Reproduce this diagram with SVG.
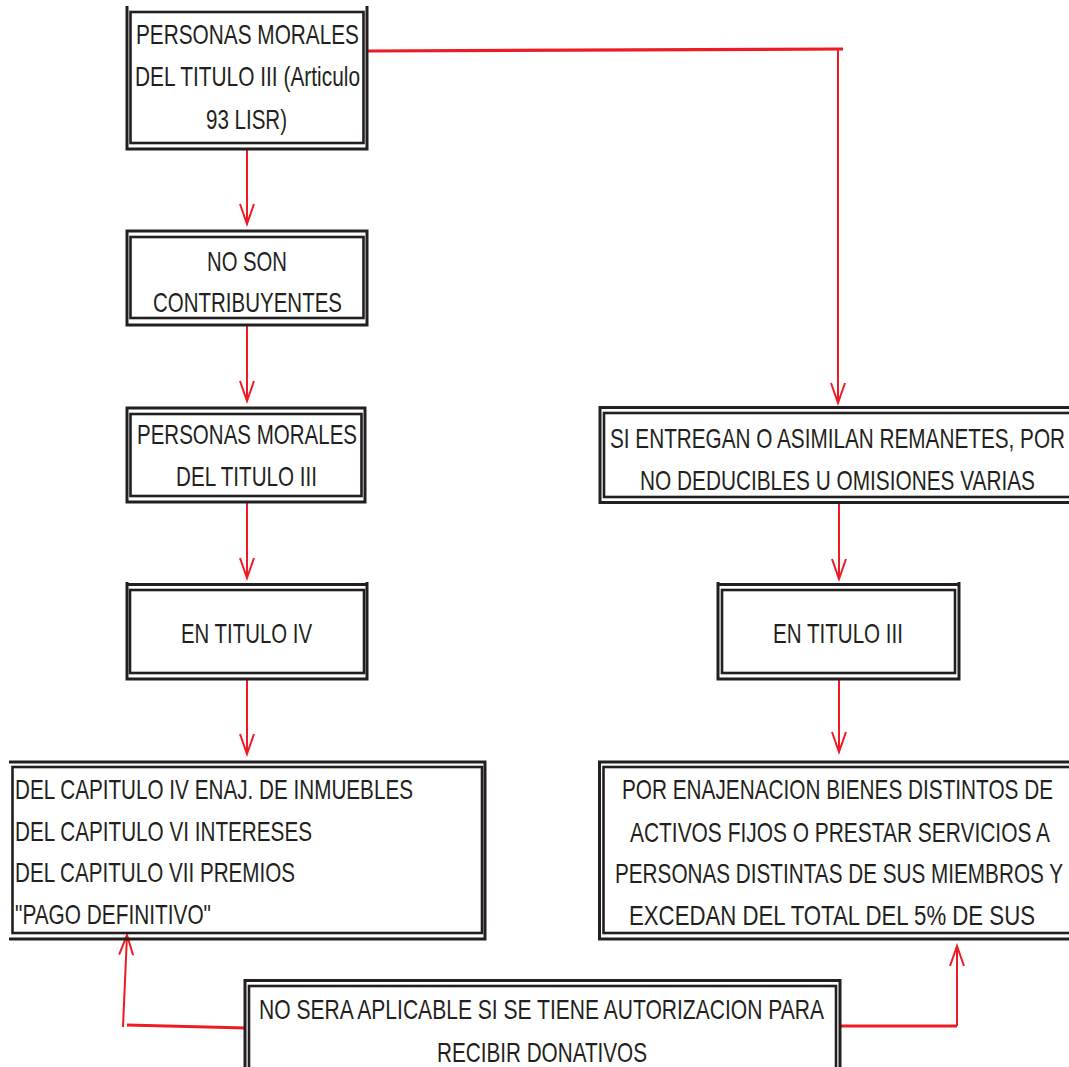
<svg xmlns="http://www.w3.org/2000/svg" width="1069" height="1067" viewBox="0 0 1069 1067">
<defs>
<style>
.o{fill:none;stroke:#231f20;stroke-width:3}
.i{fill:none;stroke:#231f20;stroke-width:2.6}
.t{font-family:"Liberation Sans",Arial,sans-serif;font-size:28px;fill:#231f20}
.c{fill:none;stroke:#ed1c24;stroke-width:2}
.cw{fill:none;stroke:#ed1c24;stroke-width:3.2}
</style>
<marker id="ah" markerUnits="userSpaceOnUse" markerWidth="24" markerHeight="20" viewBox="0 -10 24 20" refX="21" refY="0" orient="auto">
<path d="M1,-7 L21,0 L1,7" fill="none" stroke="#ed1c24" stroke-width="2"/>
</marker>
</defs>
<rect width="1069" height="1067" fill="#fff"/>

<g id="connectors">
<line class="c" x1="247" y1="149" x2="247" y2="224" marker-end="url(#ah)"/>
<line class="c" x1="247" y1="326" x2="247" y2="401" marker-end="url(#ah)"/>
<line class="c" x1="247" y1="503" x2="247" y2="578" marker-end="url(#ah)"/>
<line class="c" x1="247" y1="680" x2="247" y2="754" marker-end="url(#ah)"/>
<path class="cw" d="M368,51 L843,49"/>
<line class="c" x1="838" y1="49" x2="838" y2="403" marker-end="url(#ah)"/>
<line class="c" x1="839" y1="504" x2="839" y2="579" marker-end="url(#ah)"/>
<line class="c" x1="839" y1="680" x2="839" y2="752" marker-end="url(#ah)"/>
<path class="cw" d="M246,1028 L127,1025"/>
<line class="c" x1="123" y1="1027" x2="127" y2="935" marker-end="url(#ah)"/>
<path class="cw" d="M839,1026 L957,1026"/>
<line class="c" x1="957" y1="1026" x2="957" y2="946" marker-end="url(#ah)"/>
</g>

<g id="n1">
<path class="o" d="M127,6 V149 H367 V6"/>
<rect class="i" x="130.5" y="12" width="233" height="131"/>
<text class="t" x="136" y="44" textLength="223" lengthAdjust="spacingAndGlyphs">PERSONAS MORALES</text>
<text class="t" x="135" y="86" textLength="225" lengthAdjust="spacingAndGlyphs">DEL TITULO III (Articulo</text>
<text class="t" x="206" y="129" textLength="81" lengthAdjust="spacingAndGlyphs">93 LISR)</text>
</g>

<g id="n2">
<rect class="o" x="127" y="231" width="240" height="94"/>
<rect class="i" x="130.5" y="237" width="233" height="81"/>
<text class="t" x="207" y="271" textLength="80" lengthAdjust="spacingAndGlyphs">NO SON</text>
<text class="t" x="153" y="312" textLength="189" lengthAdjust="spacingAndGlyphs">CONTRIBUYENTES</text>
</g>

<g id="n3">
<rect class="o" x="127" y="408" width="238" height="94"/>
<rect class="i" x="130.5" y="414" width="231" height="82"/>
<text class="t" x="137" y="444" textLength="220" lengthAdjust="spacingAndGlyphs">PERSONAS MORALES</text>
<text class="t" x="176" y="486" textLength="141" lengthAdjust="spacingAndGlyphs">DEL TITULO III</text>
</g>

<g id="n4">
<path class="o" d="M127,582 V679 H367 V582 M127,584.5 H367"/>
<rect class="i" x="130" y="590" width="234" height="83"/>
<text class="t" x="181" y="643" textLength="131" lengthAdjust="spacingAndGlyphs">EN TITULO IV</text>
</g>

<g id="n5">
<path class="o" d="M9,762 H485 V939 H9"/>
<rect class="i" x="12.5" y="767" width="469.5" height="166"/>
<text class="t" x="15" y="799" textLength="398" lengthAdjust="spacingAndGlyphs">DEL CAPITULO IV ENAJ. DE INMUEBLES</text>
<text class="t" x="15" y="841" textLength="297" lengthAdjust="spacingAndGlyphs">DEL CAPITULO VI INTERESES</text>
<text class="t" x="15" y="882" textLength="280" lengthAdjust="spacingAndGlyphs">DEL CAPITULO VII PREMIOS</text>
<text class="t" x="15" y="924" textLength="196" lengthAdjust="spacingAndGlyphs">"PAGO DEFINITIVO"</text>
</g>

<g id="n6">
<rect class="o" x="600" y="407.5" width="480" height="95"/>
<rect class="i" x="604" y="413" width="472" height="84"/>
<text class="t" x="610" y="448" textLength="455" lengthAdjust="spacingAndGlyphs">SI ENTREGAN O ASIMILAN REMANETES, POR</text>
<text class="t" x="640" y="490" textLength="395" lengthAdjust="spacingAndGlyphs">NO DEDUCIBLES U OMISIONES VARIAS</text>
</g>

<g id="n7">
<path class="o" d="M718,582 V679 H959 V582 M718,584.5 H959"/>
<rect class="i" x="722" y="590" width="233" height="83"/>
<text class="t" x="773" y="643" textLength="130" lengthAdjust="spacingAndGlyphs">EN TITULO III</text>
</g>

<g id="n8">
<rect class="o" x="599.5" y="762" width="480" height="177"/>
<rect class="i" x="603.5" y="767" width="472" height="166"/>
<text class="t" x="622" y="799" textLength="431" lengthAdjust="spacingAndGlyphs">POR ENAJENACION BIENES DISTINTOS DE</text>
<text class="t" x="630" y="842" textLength="420" lengthAdjust="spacingAndGlyphs">ACTIVOS FIJOS O PRESTAR SERVICIOS A</text>
<text class="t" x="615" y="883" textLength="448" lengthAdjust="spacingAndGlyphs">PERSONAS DISTINTAS DE SUS MIEMBROS Y</text>
<text class="t" x="629" y="925" textLength="406" lengthAdjust="spacingAndGlyphs">EXCEDAN DEL TOTAL DEL 5% DE SUS</text>
</g>

<g id="n9">
<rect class="o" x="245" y="980.5" width="595" height="100"/>
<rect class="i" x="249" y="986" width="587" height="90"/>
<text class="t" x="259" y="1019" textLength="565" lengthAdjust="spacingAndGlyphs">NO SERA APLICABLE SI SE TIENE AUTORIZACION PARA</text>
<text class="t" x="437" y="1062" textLength="210" lengthAdjust="spacingAndGlyphs">RECIBIR DONATIVOS</text>
</g>
</svg>
